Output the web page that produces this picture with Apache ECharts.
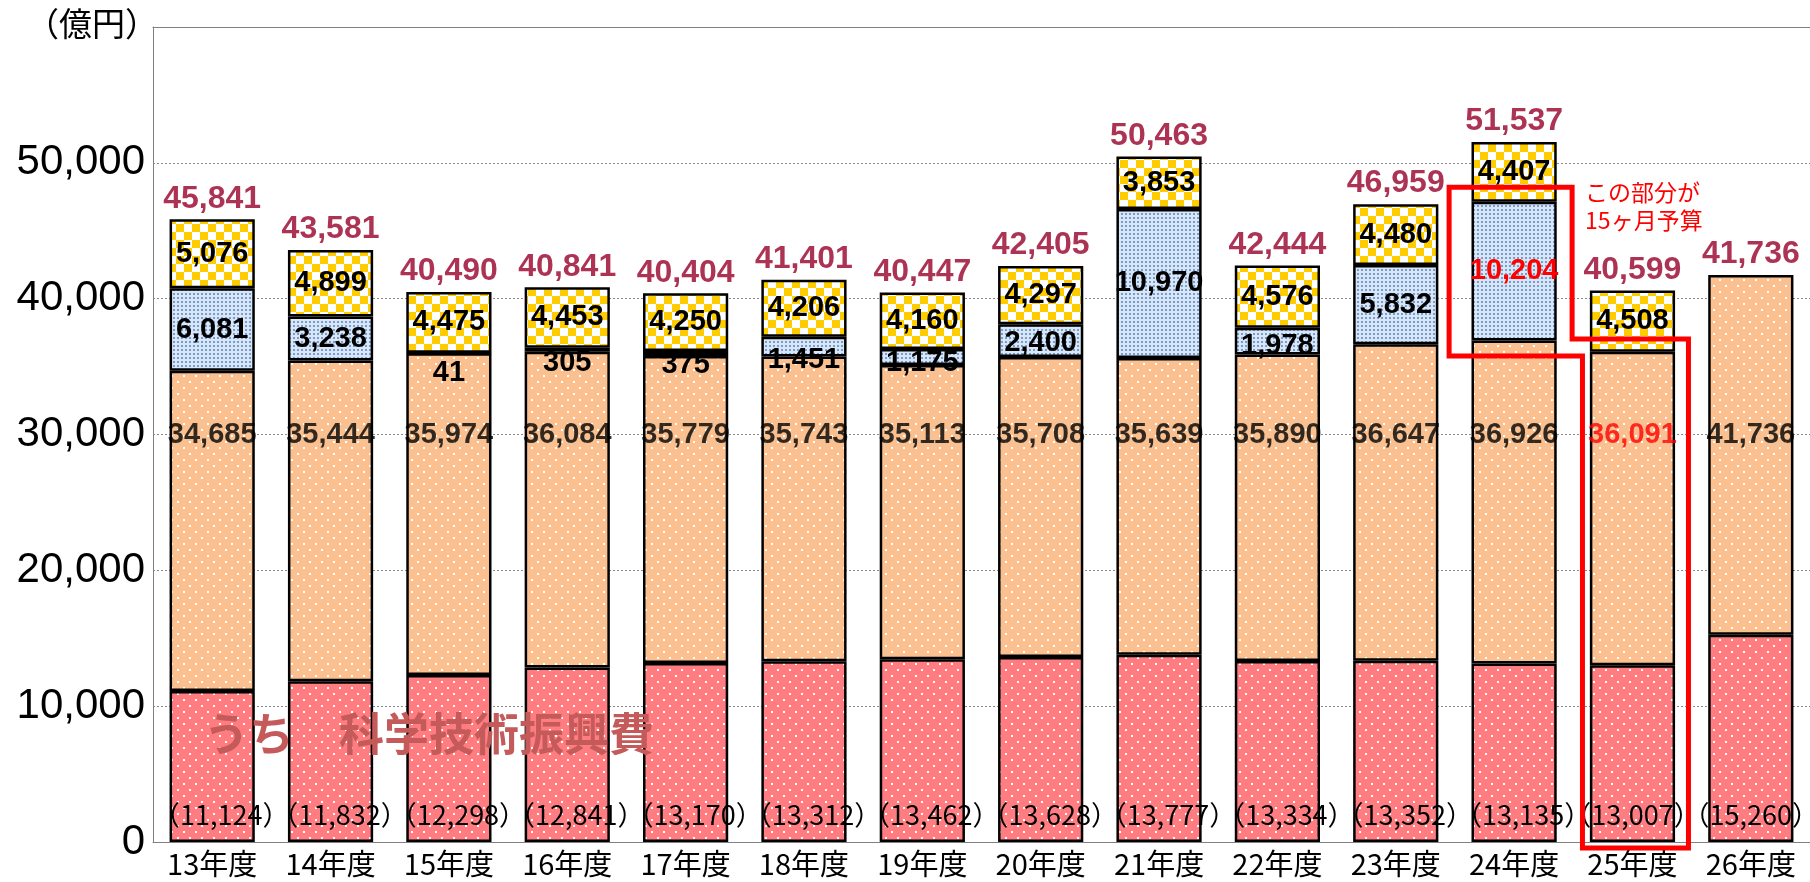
<!DOCTYPE html>
<html><head><meta charset="utf-8">
<script src="https://cdn.jsdelivr.net/npm/echarts@6/dist/echarts.min.js"></script>
<style>html,body{margin:0;padding:0;background:#fff}#c{width:1810px;height:882px}</style>
</head><body><div id="c"></div>
<script>
const categories = ['13年度','14年度','15年度','16年度','17年度','18年度','19年度','20年度','21年度','22年度','23年度','24年度','25年度','26年度'];
const scienceBudget = [11124,11832,12298,12841,13170,13312,13462,13628,13777,13334,13352,13135,13007,15260];
const baseBudget = [34685,35444,35974,36084,35779,35743,35113,35708,35639,35890,36647,36926,36091,41736];
const supplementary = [6081,3238,41,305,375,1451,1175,2400,10970,1978,5832,10204,null,null];
const reserveFund = [5076,4899,4475,4453,4250,4206,4160,4297,3853,4576,4480,4407,4508,null];
const totals = [45841,43581,40490,40841,40404,41401,40447,42405,50463,42444,46959,51537,40599,41736];
const baseLabelLevel = 30000;

// style-only tweaks
const blueLabelShift = {2: 20, 3: 13, 4: 12, 5: 13, 6: 6, 7: 2, 9: 5};
const parenShift = idx => (idx >= 12 ? 0 : 9);
const redBlueIdx = 11, redBaseIdx = 12;

const fmt = v => Number(v).toLocaleString('en-US');

function pattern(w, h, bg, draw) {
  const c = document.createElement('canvas'); c.width = w; c.height = h;
  const ctx = c.getContext('2d'); ctx.fillStyle = bg; ctx.fillRect(0, 0, w, h); draw(ctx);
  return { image: c, repeat: 'repeat' };
}
const redPat = pattern(12, 12, '#FF7C80', ctx => { ctx.fillStyle = '#fff'; ctx.fillRect(3, 3, 2, 2); ctx.fillRect(9, 9, 2, 2); });
const orangePat = pattern(12, 12, '#FAC090', ctx => { ctx.fillStyle = '#fff'; ctx.fillRect(3, 3, 2, 2); ctx.fillRect(9, 9, 2, 2); });
const bluePat = pattern(4, 4, '#DCE6F2', ctx => { ctx.fillStyle = '#6F9FDA'; ctx.fillRect(1, 1, 2, 2); });
const yellowPat = pattern(16, 16, '#FFFFFF', ctx => { ctx.fillStyle = '#FFCC00'; ctx.fillRect(0, 0, 8, 8); ctx.fillRect(8, 8, 8, 8); });

const orangePart = baseBudget.map((b, i) => b - scienceBudget[i]);

const border = { borderColor: '#000', borderWidth: 2.5 };
const segFont = { fontFamily: 'Liberation Sans', fontWeight: 'bold', fontSize: 29, color: '#000' };

const chart = echarts.init(document.getElementById('c'), null, { renderer: 'canvas' });
const option = {
  animation: false,
  grid: { left: 153, right: 0, top: 27, bottom: 40 },
  xAxis: [{
    type: 'category', data: categories,
    axisTick: { show: false },
    axisLine: { lineStyle: { color: '#808080', width: 1 } },
    axisLabel: { interval: 0, fontFamily: 'Noto Sans CJK JP', fontSize: 29, color: '#000', margin: 7 }
  }, {
    type: 'category', data: categories, position: 'top',
    axisTick: { show: false }, axisLabel: { show: false },
    axisLine: { lineStyle: { color: '#808080', width: 1 } }
  }],
  yAxis: {
    type: 'value', min: 0, max: 60000, interval: 10000,
    axisLine: { show: true, lineStyle: { color: '#808080', width: 1 } },
    axisTick: { show: false },
    splitLine: { lineStyle: { color: '#8a8a8a', type: [2, 2], width: 1 } },
    axisLabel: { fontFamily: 'Liberation Sans', fontSize: 42, color: '#000', margin: 8,
      formatter: v => v === 60000 ? '' : fmt(v) }
  },
  series: [
    { name: '科学技術振興費', type: 'bar', stack: 'a', barWidth: '72%',
      data: scienceBudget.map((v, i) => ({ value: v, label: { offset: [parenShift(i), 0] } })),
      itemStyle: Object.assign({ color: redPat }, border),
      label: { show: true, position: 'insideBottom', distance: 14,
        fontFamily: 'Noto Sans CJK JP', fontSize: 27, color: '#000',
        formatter: p => '（' + fmt(p.value) + '）' } },
    { name: '当初予算', type: 'bar', stack: 'a', barWidth: '72%',
      data: orangePart,
      itemStyle: Object.assign({ color: orangePat }, border),
      label: { show: false } },
    { name: '補正予算', type: 'bar', stack: 'a', barWidth: '72%',
      data: supplementary.map((v, i) => ({
        value: v == null ? '-' : v,
        label: { offset: [0, blueLabelShift[i] || 0], color: i === redBlueIdx ? '#FF0000' : '#000' }
      })),
      itemStyle: Object.assign({ color: bluePat }, border),
      label: Object.assign({ show: true, position: 'inside', formatter: p => fmt(p.value) }, segFont) },
    { name: '予備費等', type: 'bar', stack: 'a', barWidth: '72%',
      data: reserveFund.map(v => v == null ? '-' : v),
      itemStyle: Object.assign({ color: yellowPat }, border),
      label: Object.assign({ show: true, position: 'inside', formatter: p => fmt(p.value) }, segFont) },
    { name: 'base-label', type: 'scatter', symbolSize: 1, z: 5,
      itemStyle: { color: 'rgba(0,0,0,0)' },
      data: baseBudget.map((v, i) => ({ value: [i, baseLabelLevel],
        label: { color: i === redBaseIdx ? '#FF0000' : '#000' } })),
      label: Object.assign({ show: true, position: 'inside',
        formatter: p => fmt(baseBudget[p.dataIndex]) }, segFont) },
    { name: 'total-label', type: 'scatter', symbolSize: 1, z: 5,
      itemStyle: { color: 'rgba(0,0,0,0)' },
      data: totals.map((v, i) => [i, v]),
      label: { show: true, position: 'top', distance: 4,
        fontFamily: 'Liberation Sans', fontWeight: 'bold', fontSize: 32, color: '#99002B',
        formatter: p => fmt(p.value[1]) } }
  ]
};
chart.setOption(option);

const P = (c, v) => chart.convertToPixel({ xAxisIndex: 0, yAxisIndex: 0 }, [c, v]);
const cx11 = P(11, 0)[0], cx12 = P(12, 0)[0];
const yTop = P(0, 48200)[1], yMidL = P(0, 35780)[1], yMidR = P(0, 37030)[1], yBot = P(0, 0)[1] + 6;

chart.setOption({
  graphic: [
    { type: 'text', left: 26, top: 7, z: 10,
      style: { text: '（億円）', fontFamily: 'Noto Sans CJK JP', fontSize: 33, fill: '#000' } },
    { type: 'text', left: 204, top: 711, z: 10,
      style: { text: 'うち　科学技術振興費', fontFamily: 'Noto Sans CJK JP', fontWeight: 'bold', fontSize: 45, fill: '#C45A5A' } },
    { type: 'polygon', z: 20,
      shape: { points: [[cx11 - 65, yTop], [cx11 + 58, yTop], [cx11 + 58, yMidR], [cx12 + 56, yMidR],
                        [cx12 + 56, yBot], [cx12 - 50, yBot], [cx12 - 50, yMidL], [cx11 - 65, yMidL]] },
      style: { fill: null, stroke: '#FF0000', lineWidth: 5, lineJoin: 'miter' } },
    { type: 'text', left: cx11 + 71, top: 178, z: 20,
      style: { text: 'この部分が\n15ヶ月予算', fontFamily: 'Noto Sans CJK JP', fontSize: 23, lineHeight: 28, fill: '#FF0000' } }
  ]
});
</script></body></html>
